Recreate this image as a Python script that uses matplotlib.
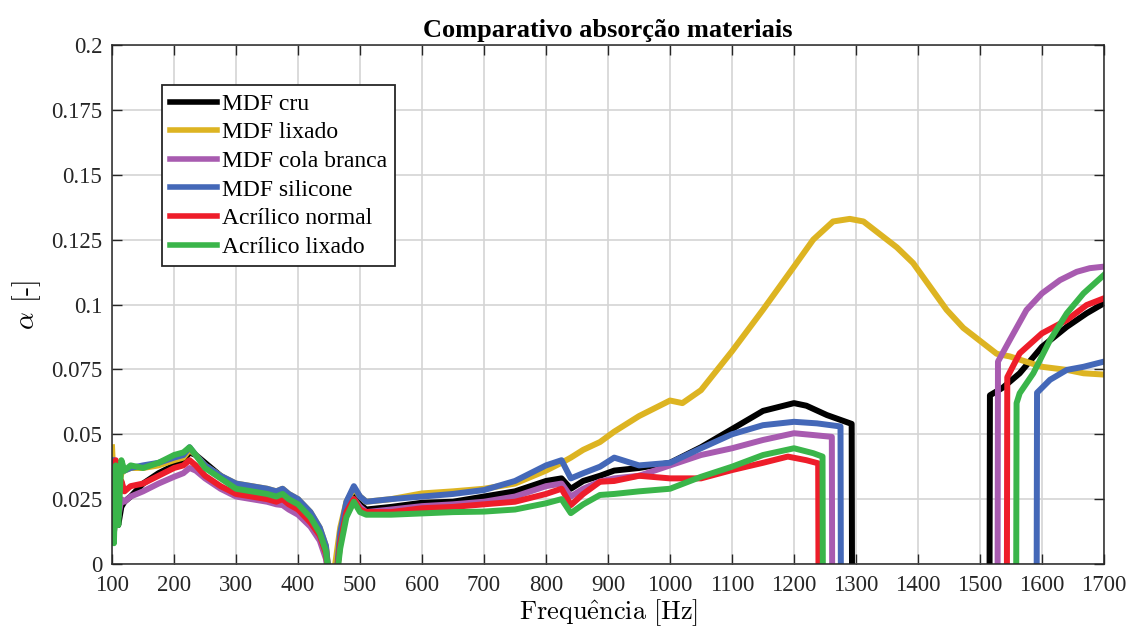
import matplotlib
matplotlib.use("Agg")
import matplotlib.pyplot as plt
import numpy as np

plt.rcParams['mathtext.fontset'] = 'cm'

# shared frequency grid for the low range (Hz)
f_base = [100, 103, 106, 110, 115, 120, 130, 150, 175, 200, 215, 225, 235, 250,
          275, 300, 325, 350, 365, 375, 385, 400, 420, 435, 445, 452, 460, 468,
          478, 490, 500, 510, 550, 600, 650, 700, 750, 800, 825, 840, 860, 887,
          910, 950, 1000]

# MDF cru
cru_base = [0.025, 0.012, 0.020, 0.015, 0.022, 0.024, 0.026, 0.031, 0.035, 0.038,
            0.040, 0.043, 0.042, 0.039, 0.034, 0.030, 0.029, 0.028, 0.027, 0.028,
            0.026, 0.024, 0.019, 0.013, 0.006, -0.01, -0.01, 0.010, 0.022, 0.027,
            0.023, 0.021, 0.022, 0.0236, 0.024, 0.026, 0.028, 0.032, 0.033, 0.029,
            0.032, 0.034, 0.036, 0.037, 0.039]
cru_tail_f = [1050, 1100, 1150, 1200, 1220, 1253, 1293, 1294, 1515, 1516, 1537,
              1564, 1600, 1640, 1672, 1700]
cru_tail = [0.045, 0.052, 0.059, 0.062, 0.061, 0.0574, 0.054, -0.05, -0.05, 0.065,
            0.068, 0.0735, 0.0837, 0.0914, 0.0966, 0.1005]

# MDF lixado
lix_base = [0.045, 0.030, 0.036, 0.028, 0.035, 0.036, 0.037, 0.037, 0.038, 0.040,
            0.041, 0.044, 0.042, 0.038, 0.034, 0.031, 0.030, 0.029, 0.028, 0.029,
            0.027, 0.025, 0.020, 0.014, 0.007, -0.01, 0.0, 0.014, 0.024, 0.029,
            0.026, 0.024, 0.025, 0.0272, 0.028, 0.029, 0.031, 0.036, 0.039, 0.041,
            0.044, 0.047, 0.051, 0.057, 0.063]
lix_tail_f = [1020, 1050, 1100, 1150, 1200, 1231, 1263, 1290, 1312, 1339, 1366,
              1392, 1419, 1446, 1473, 1500, 1527, 1548, 1600, 1640, 1667, 1700]
lix_tail = [0.062, 0.067, 0.082, 0.098, 0.1146, 0.125, 0.132, 0.133, 0.132, 0.127,
            0.122, 0.116, 0.107, 0.098, 0.091, 0.086, 0.081, 0.080, 0.076, 0.0748,
            0.0735, 0.073]

# MDF cola branca
cola_base = [0.030, 0.020, 0.028, 0.018, 0.025, 0.024, 0.026, 0.028, 0.031, 0.0336,
             0.035, 0.037, 0.036, 0.033, 0.029, 0.026, 0.025, 0.024, 0.023, 0.0227,
             0.021, 0.019, 0.0144, 0.009, 0.002, -0.01, -0.01, 0.010, 0.020, 0.025,
             0.022, 0.020, 0.021, 0.0223, 0.023, 0.024, 0.026, 0.030, 0.031, 0.026,
             0.029, 0.0318, 0.033, 0.034, 0.038]
cola_tail_f = [1050, 1100, 1150, 1200, 1231, 1261, 1262, 1528, 1529, 1548, 1575,
               1600, 1629, 1656, 1677, 1700]
cola_tail = [0.042, 0.0446, 0.0478, 0.0504, 0.0497, 0.049, -0.05, -0.05, 0.078,
             0.0863, 0.0979, 0.1043, 0.1094, 0.1126, 0.114, 0.1146]

# MDF silicone
sil_base = [0.040, 0.025, 0.038, 0.030, 0.038, 0.036, 0.037, 0.038, 0.039, 0.041,
            0.042, 0.045, 0.042, 0.038, 0.034, 0.031, 0.030, 0.029, 0.028, 0.029,
            0.027, 0.025, 0.020, 0.014, 0.007, -0.01, -0.01, 0.012, 0.024, 0.030,
            0.026, 0.024, 0.025, 0.026, 0.027, 0.0285, 0.032, 0.038, 0.040, 0.033,
            0.035, 0.0375, 0.041, 0.038, 0.039]
sil_tail_f = [1050, 1100, 1150, 1200, 1237, 1275, 1276, 1591, 1592, 1613, 1640,
              1667, 1700]
sil_tail = [0.0446, 0.050, 0.0535, 0.0548, 0.0542, 0.053, -0.05, -0.05, 0.066,
            0.071, 0.0748, 0.076, 0.078]

# Acrilico normal
acn_base = [0.032, 0.020, 0.040, 0.025, 0.032, 0.028, 0.030, 0.031, 0.034, 0.037,
            0.038, 0.040, 0.038, 0.034, 0.030, 0.027, 0.026, 0.025, 0.024, 0.025,
            0.023, 0.021, 0.016, 0.011, 0.004, -0.01, -0.01, 0.008, 0.020, 0.025,
            0.021, 0.020, 0.020, 0.0215, 0.022, 0.023, 0.024, 0.027, 0.029, 0.0227,
            0.027, 0.0317, 0.032, 0.034, 0.033]
acn_tail_f = [1050, 1100, 1150, 1190, 1220, 1239, 1240, 1543, 1544, 1564, 1600,
              1640, 1672, 1700]
acn_tail = [0.033, 0.0362, 0.039, 0.0414, 0.040, 0.0388, -0.05, -0.05, 0.072,
            0.0812, 0.0889, 0.094, 0.0998, 0.1024]

# Acrilico lixado
acl_base = [0.035, 0.008, 0.038, 0.015, 0.040, 0.036, 0.038, 0.037, 0.039, 0.042,
            0.043, 0.045, 0.042, 0.037, 0.033, 0.029, 0.028, 0.027, 0.026, 0.027,
            0.025, 0.023, 0.018, 0.012, 0.005, -0.01, -0.01, 0.006, 0.018, 0.024,
            0.020, 0.019, 0.019, 0.0195, 0.020, 0.0202, 0.021, 0.0234, 0.025, 0.0196,
            0.023, 0.0266, 0.027, 0.028, 0.029]
acl_tail_f = [1050, 1100, 1150, 1200, 1231, 1246, 1247, 1558, 1559, 1564, 1586,
              1613, 1640, 1667, 1700]
acl_tail = [0.0336, 0.0375, 0.042, 0.0446, 0.0427, 0.0414, -0.05, -0.05, 0.062,
            0.0658, 0.0735, 0.0863, 0.0966, 0.1043, 0.1114]

labels = ['MDF cru', 'MDF lixado', 'MDF cola branca', 'MDF silicone',
          'Acrílico normal', 'Acrílico lixado']
colors = ['#000000', '#DDB422', '#A85BB0', '#4468B8', '#EE1D2A', '#3AB54A']

x_ticks = list(range(100, 1800, 100))
y_ticks = [0, 0.025, 0.05, 0.075, 0.1, 0.125, 0.15, 0.175, 0.2]
y_ticklabels = ['0', '0.025', '0.05', '0.075', '0.1', '0.125', '0.15', '0.175', '0.2']

series = [
    (f_base + cru_tail_f, cru_base + cru_tail),
    (f_base + lix_tail_f, lix_base + lix_tail),
    (f_base + cola_tail_f, cola_base + cola_tail),
    (f_base + sil_tail_f, sil_base + sil_tail),
    (f_base + acn_tail_f, acn_base + acn_tail),
    (f_base + acl_tail_f, acl_base + acl_tail),
]

serif = ['Liberation Serif', 'DejaVu Serif']

fig = plt.figure(figsize=(11.33, 6.34), dpi=100)
ax = fig.add_axes([0.0989, 0.1104, 0.8755, 0.8186])

for (f, a), lab, c in zip(series, labels, colors):
    ax.plot(f, a, color=c, lw=4.3, label=lab, solid_joinstyle='round')

ax.set_xlim(100, 1700)
ax.set_ylim(0, 0.2)
ax.set_xticks(x_ticks)
ax.set_xticklabels([str(t) for t in x_ticks], family=serif, fontsize=16.5)
ax.set_yticks(y_ticks)
ax.set_yticklabels(y_ticklabels, family=serif, fontsize=16.5)
ax.tick_params(direction='in', length=7, width=1.0, top=True, right=True,
               color='#262626', labelcolor='#262626')
ax.tick_params(axis='x', pad=8)
ax.tick_params(axis='y', pad=7)
ax.grid(True, color='#D4D4D4', lw=1.2)
ax.set_axisbelow(True)
for s in ax.spines.values():
    s.set_color('#262626')
    s.set_linewidth(1.1)

ax.set_title('Comparativo absorção materiais', family=serif, fontweight='bold',
             fontsize=19, pad=6)
ax.set_xlabel(r'$\mathrm{Frequ\hat{e}ncia\ [Hz]}$', fontsize=19, labelpad=1)
ax.set_ylabel(r'$\alpha$ [-]', family=['cmr10', 'DejaVu Serif'], fontsize=20, labelpad=6)

leg = ax.legend(loc='upper left', bbox_to_anchor=(0.05, 0.923), borderaxespad=0,
                prop={'family': serif, 'size': 17}, fancybox=False,
                framealpha=1, edgecolor='#262626', handlelength=2.0,
                handletextpad=0.2, labelspacing=0.3, borderpad=0.35)
leg.get_frame().set_linewidth(1.3)
for line in leg.get_lines():
    line.set_linewidth(4.0)

fig.savefig('out.png', dpi=100)
